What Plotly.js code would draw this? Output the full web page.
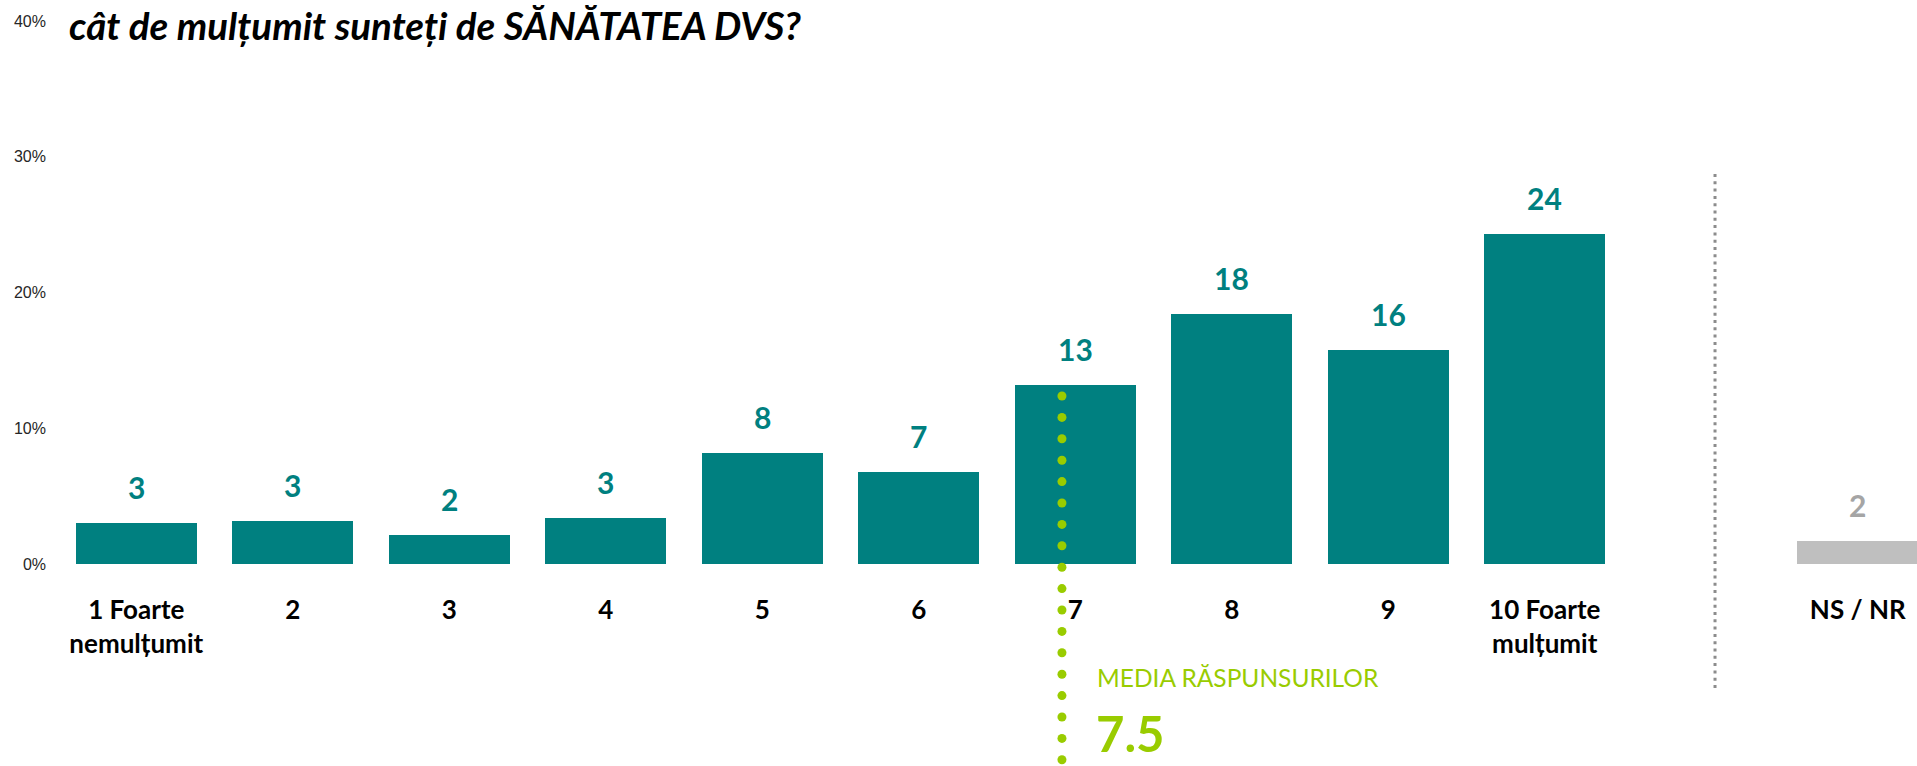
<!DOCTYPE html>
<html>
<head>
<meta charset="utf-8">
<script src="https://cdn.plot.ly/plotly-3.0.1.min.js"></script>
<style>
  html, body { margin: 0; padding: 0; background: #ffffff; }
  #chart { width: 1917px; height: 766px; }
</style>
</head>
<body>
<div id="chart"></div>
<script>
// ---------- data ----------
const titleText = 'cât de mulțumit sunteți de SĂNĂTATEA DVS?';
const scaleLabels = ['1 Foarte<br>nemulțumit', '2', '3', '4', '5', '6', '7', '8', '9', '10 Foarte<br>mulțumit'];
const scaleValues = [3.0, 3.2, 2.1, 3.4, 8.2, 6.8, 13.2, 18.4, 15.8, 24.3];
const nsLabels = ['NS / NR'];
const nsValues = [1.7];
const meanLabel = 'MEDIA RĂSPUNSURILOR';
const meanScore = 7.5;
const yTickVals = [0, 10, 20, 30, 40];
const yTickText = ['0%', '10%', '20%', '30%', '40%'];

// ---------- style ----------
const TEAL = '#008080';
const GREY_BAR = '#BFBFBF';
const GREY_TXT = '#A5A5A5';
const GREEN = '#99CC00';
const W = 1917, H = 766;
const M = { l: 58, r: 0, t: 21, b: 202 };
const plotH = H - M.t - M.b;

// positions on the numeric x axis: scale items, then a one-slot gap, then NS/NR
const scaleX = scaleValues.map((_, i) => i);
const nsX = nsValues.map((_, i) => scaleValues.length + 1 + i);
const allX = scaleX.concat(nsX);
const allLabels = scaleLabels.concat(nsLabels);

const BAR_W = 0.773;
const MEAN_LINE_X = 5.915;   // where the decorative mean line sits (as in the reference)
const SEP_X = 10.088;        // separator position

const pxToPaper = p => (H - M.b - p) / plotH;

const traces = [
  { type: 'bar', x: scaleX, y: scaleValues, width: BAR_W,
    marker: { color: TEAL }, hoverinfo: 'skip', showlegend: false },
  { type: 'bar', x: nsX, y: nsValues, width: BAR_W,
    marker: { color: GREY_BAR }, hoverinfo: 'skip', showlegend: false }
];

const annotations = [];
scaleValues.forEach((v, i) => annotations.push({
  x: scaleX[i], y: v, xref: 'x', yref: 'y', text: String(Math.round(v)),
  showarrow: false, yanchor: 'bottom', yshift: 16,
  font: { family: 'Lato', size: 30, weight: 'bold', color: TEAL }
}));
nsValues.forEach((v, i) => annotations.push({
  x: nsX[i], y: v, xref: 'x', yref: 'y', text: String(Math.round(v)),
  showarrow: false, yanchor: 'bottom', yshift: 16,
  font: { family: 'Lato', size: 30, weight: 'bold', color: GREY_TXT }
}));
// title
annotations.push({
  xref: 'paper', yref: 'paper', x: (67 - M.l) / (W - M.l - M.r), y: pxToPaper(25),
  xanchor: 'left', yanchor: 'middle', showarrow: false, text: titleText,
  font: { family: 'Lato', size: 38.5, weight: 'bold', style: 'italic', color: '#000000' }
});
// mean text
annotations.push({
  xref: 'x', yref: 'paper', x: MEAN_LINE_X, xshift: 33, y: pxToPaper(677),
  xanchor: 'left', yanchor: 'middle', showarrow: false, text: meanLabel,
  font: { family: 'Lato', size: 24.5, color: GREEN }
});
annotations.push({
  xref: 'x', yref: 'paper', x: MEAN_LINE_X, xshift: 32, y: pxToPaper(733),
  xanchor: 'left', yanchor: 'middle', showarrow: false, text: meanScore.toFixed(1),
  font: { family: 'Lato', size: 49, weight: 'bold', color: GREEN }
});

const shapes = [];
// separator (grey dotted)
shapes.push({
  type: 'line', xref: 'x', yref: 'paper', x0: SEP_X, x1: SEP_X,
  y0: pxToPaper(174), y1: pxToPaper(690),
  line: { color: '#8C8C8C', width: 3, dash: '3px,4.3px' }, layer: 'above'
});
// mean line as round dots
for (let p = 396; p <= H + 5; p += 21.4) {
  shapes.push({
    type: 'circle', xref: 'x', yref: 'paper', xsizemode: 'pixel', ysizemode: 'pixel',
    xanchor: MEAN_LINE_X, yanchor: pxToPaper(p),
    x0: -4.5, x1: 4.5, y0: -4.5, y1: 4.5,
    fillcolor: GREEN, line: { width: 0 }, layer: 'above'
  });
}

const layout = {
  width: W, height: H,
  margin: M,
  paper_bgcolor: '#ffffff', plot_bgcolor: '#ffffff',
  showlegend: false,
  bargap: 0,
  xaxis: {
    range: [-0.5, (W - M.l - M.r) / 156.5 - 0.5],
    tickmode: 'array', tickvals: allX, ticktext: allLabels,
    showgrid: false, zeroline: false, showline: false, ticks: '',
    ticklabelstandoff: 28,
    tickfont: { family: 'Lato', size: 26, weight: 'bold', color: '#000000' },
    fixedrange: true
  },
  yaxis: {
    range: [0, 40],
    tickmode: 'array', tickvals: yTickVals, ticktext: yTickText,
    showgrid: false, zeroline: false, showline: false, ticks: '',
    ticklabelstandoff: 11,
    tickfont: { family: 'Liberation Sans', size: 16, color: '#262626' },
    fixedrange: true
  },
  annotations: annotations,
  shapes: shapes
};

Plotly.newPlot('chart', traces, layout, { displayModeBar: false, staticPlot: true });
</script>
</body>
</html>
